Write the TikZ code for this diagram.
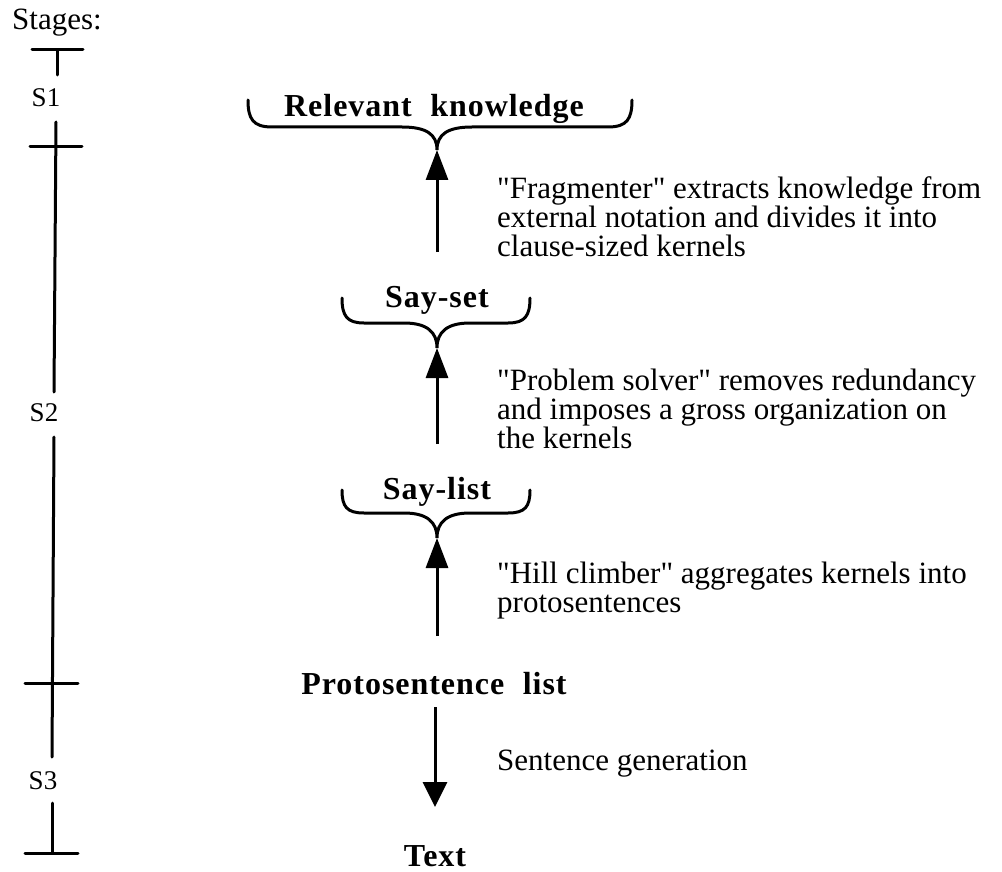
\documentclass[tikz,border=0pt]{standalone}
\usepackage{fontspec}
\setmainfont{Liberation Serif}[Ligatures=TeXOff]
\newfontfamily\lblfont{Liberation Serif}[LetterSpace=3,Ligatures=TeXOff]
\usetikzlibrary{arrows.meta}
\begin{document}
\begin{tikzpicture}[x=1pt,y=-1pt,
  bar/.style={line width=3pt,line cap=round},
  brace/.style={line width=3pt,line cap=round},
  uparr/.style={line width=3pt,-{Triangle[length=30pt,width=22pt]}},
  dnarr/.style={line width=3pt,-{Triangle[length=25pt,width=24pt]}},
  note/.style={anchor=base west,inner sep=0pt,font=\fontsize{31}{29.5}\selectfont},
  stage/.style={anchor=base,inner sep=0pt,font=\fontsize{27}{28}\selectfont},
  lbl/.style={anchor=base,inner sep=0pt,font=\lblfont\bfseries\fontsize{32}{34}\selectfont}]
\useasboundingbox (0,0) rectangle (1002,872);

% stage scale on the left
\node[note] (stages) at (12,30) {Stages:};
\draw[bar] (32,50) -- (83,50);
\draw[bar] (57,50) -- (57,75);
\node[stage] (s1) at (46,107) {S1};
\draw[bar] (56,122) -- (54,392);
\draw[bar] (30,147) -- (82,147);
\node[stage] (s2) at (44,421) {S2};
\draw[bar] (54,437) -- (52,757);
\draw[bar] (25,683) -- (78,683);
\node[stage] (s3) at (43,789) {S3};
\draw[bar] (52,803) -- (52,853);
\draw[bar] (25,853) -- (78,853);

% stage labels
\node[lbl] (rk) at (434,117) {Relevant\hspace{0.3em} knowledge};
\node[lbl] (sayset) at (437,307) {Say-set};
\node[lbl] (saylist) at (437,499) {Say-list};
\node[lbl] (proto) at (434,694) {Protosentence\hspace{0.3em} list};
\node[lbl] (text) at (435,866) {Text};

% braces gathering into a point
\coordinate (rk-tip) at (437,150);
\draw[brace] (248,100) .. controls (248,119) and (253,127) .. (272,127)
  -- (402,127) .. controls (426,127) and (437,134) .. (rk-tip)
  .. controls (437,134) and (448,127) .. (472,127)
  -- (608,127) .. controls (627,127) and (632,119) .. (632,100);
\coordinate (ss-tip) at (437,348);
\draw[brace] (342,298) .. controls (342,316) and (347,323) .. (364,323)
  -- (404,323) .. controls (427,323) and (437,332) .. (ss-tip)
  .. controls (437,332) and (447,323) .. (470,323)
  -- (508,323) .. controls (525,323) and (530,316) .. (530,298);
\coordinate (sl-tip) at (437,538);
\draw[brace] (342,490) .. controls (342,507) and (347,513) .. (364,513)
  -- (404,513) .. controls (427,513) and (437,522) .. (sl-tip)
  .. controls (437,522) and (447,513) .. (470,513)
  -- (508,513) .. controls (525,513) and (530,507) .. (530,490);

% processing steps
\coordinate (a1) at (437,252);
\draw[uparr] (a1) -- (rk-tip);
\coordinate (a2) at (437,444);
\draw[uparr] (a2) -- (ss-tip);
\coordinate (a3) at (437,636);
\draw[uparr] (a3) -- (sl-tip);
\coordinate (a4s) at (435,707);
\coordinate (a4e) at (435,807);
\draw[dnarr] (a4s) -- (a4e);

% step descriptions
\node[note] (f1) at (497,198) {"Fragmenter" extracts knowledge from};
\node[note] (f2) at (497,227) {external notation and divides it into};
\node[note] (f3) at (497,256) {clause-sized kernels};
\node[note] (p1) at (497,390) {"Problem solver" removes redundancy};
\node[note] (p2) at (497,419) {and imposes a gross organization on};
\node[note] (p3) at (497,448) {the kernels};
\node[note] (h1) at (497,583) {"Hill climber" aggregates kernels into};
\node[note] (h2) at (497,612) {protosentences};
\node[note] (g1) at (497,770) {Sentence generation};
\end{tikzpicture}
\end{document}
